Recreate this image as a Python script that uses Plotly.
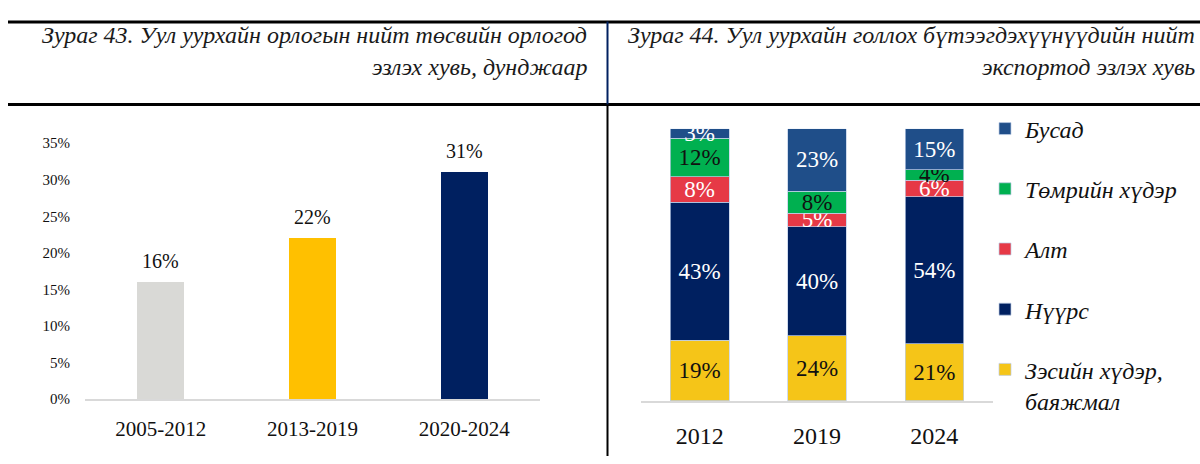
import plotly.graph_objects as go

# ---- data -------------------------------------------------------------
periods = ["2005-2012", "2013-2019", "2020-2024"]
mining_share = [16, 22, 31]          # % of total budget revenue
period_colors = ["#D9D9D6", "#FFC000", "#002060"]
left_ticks = [0, 5, 10, 15, 20, 25, 30, 35]

years = ["2012", "2019", "2024"]
copper = [19, 24, 21]   # Зэсийн хүдэр, баяжмал
coal = [43, 40, 54]     # Нүүрс
gold = [8, 5, 6]        # Алт
iron = [12, 8, 4]       # Төмрийн хүдэр
other = [3, 23, 15]     # Бусад

W, H = 1200, 464
SERIF = "Liberation Serif"


def px(x):
    return x / W


def py(y):
    return 1 - y / H


fig = go.Figure()

# ---- left: mining revenue share -------------------------------------
fig.add_trace(go.Bar(
    x=periods, y=mining_share, marker=dict(color=period_colors, line=dict(width=0)),
    width=0.31, xaxis="x", yaxis="y", showlegend=False, hoverinfo="skip",
))
for p, v in zip(periods, mining_share):
    fig.add_annotation(x=p, y=v, xref="x", yref="y", text=f"{v}%", showarrow=False,
                       yanchor="bottom", yshift=8,
                       font=dict(family=SERIF, size=20, color="#111111"))

# ---- right: 100% stacked export structure ---------------------------
# (name, values, fill, label colour, legend rank)
series = [
    ("Зэсийн хүдэр,<br>баяжмал", copper, "#F5C518", "#111111", 5),
    ("Нүүрс", coal, "#002060", "#FFFFFF", 4),
    ("Алт", gold, "#E63946", "#FFFFFF", 3),
    ("Төмрийн хүдэр", iron, "#00B050", "#111111", 2),
    ("Бусад", other, "#1F4E89", "#FFFFFF", 1),
]
totals = [sum(s[1][i] for s in series) for i in range(len(years))]
for name, vals, col, tcol, rank in series:
    norm = [v / t * 100 for v, t in zip(vals, totals)]
    fig.add_trace(go.Bar(
        x=years, y=norm, name=name, text=[f"{v}%" for v in vals],
        textposition="inside", insidetextanchor="middle", constraintext="none",
        textangle=0, textfont=dict(family=SERIF, size=23, color=tcol),
        marker=dict(color=col, line=dict(color="rgba(190,205,230,0.9)", width=0.8)),
        width=0.5, xaxis="x2", yaxis="y2", legendgroup=name, legendrank=rank,
        hoverinfo="skip",
    ))

fig.update_layout(
    width=W, height=H, margin=dict(l=0, r=0, t=0, b=0),
    paper_bgcolor="white", plot_bgcolor="white",
    barmode="stack", showlegend=True,
    font=dict(family=SERIF, color="#111111"),
    xaxis=dict(domain=[px(85), px(540)], showline=True, linecolor="#D9D9D9", linewidth=2,
               ticks="", showgrid=False, zeroline=False, ticklabelstandoff=10,
               tickfont=dict(family=SERIF, size=21, color="#111111")),
    yaxis=dict(domain=[py(405), py(140)], range=[0, 35], tickvals=left_ticks,
               ticktext=[f"{t}%" for t in left_ticks], showgrid=False, zeroline=False,
               showline=False, ticks="", ticklabelstandoff=14,
               tickfont=dict(family=SERIF, size=15, color="#111111")),
    xaxis2=dict(domain=[px(641), px(993)], anchor="y2", showline=True, linecolor="#D9D9D9",
                linewidth=2, ticks="", showgrid=False, zeroline=False, ticklabelstandoff=12,
                tickfont=dict(family=SERIF, size=24, color="#111111")),
    yaxis2=dict(domain=[py(407), py(125)], anchor="x2", range=[0, 100], visible=False),
    legend=dict(x=px(985), y=py(102), xanchor="left", yanchor="top",
                traceorder="grouped", tracegroupgap=26, valign="top",
                font=dict(family=SERIF, size=24, color="#111111", style="italic"),
                bgcolor="rgba(0,0,0,0)"),
)

# ---- header titles ----------------------------------------------------
title_font = dict(family=SERIF, size=24, color="#1A1A1A", style="italic")
for x, y, txt in [
    (589, 28, "Зураг 43. Уул уурхайн орлогын нийт төсвийн орлогод"),
    (589, 61, "эзлэх хувь, дунджаар"),
    (1197, 28, "Зураг 44. Уул уурхайн голлох бүтээгдэхүүнүүдийн нийт"),
    (1197, 61, "экспортод эзлэх хувь"),
]:
    fig.add_annotation(x=px(x), y=py(y), xref="paper", yref="paper", text=txt,
                       showarrow=False, xanchor="right", yanchor="middle", font=title_font)

# ---- frame rules ------------------------------------------------------
rules = [
    (8, 14.5, 1200, 14.5, "#000000", 3),
    (8, 100, 1200, 100, "#000000", 3),
    (607.5, 14, 607.5, 100, "#002060", 2),
    (607.5, 100, 607.5, 464, "#000000", 2),
]
for x0, y0, x1, y1, c, w in rules:
    fig.add_shape(type="line", xref="paper", yref="paper",
                  x0=px(x0), y0=py(y0), x1=px(x1), y1=py(y1),
                  line=dict(color=c, width=w))

fig.write_html("out.html")
